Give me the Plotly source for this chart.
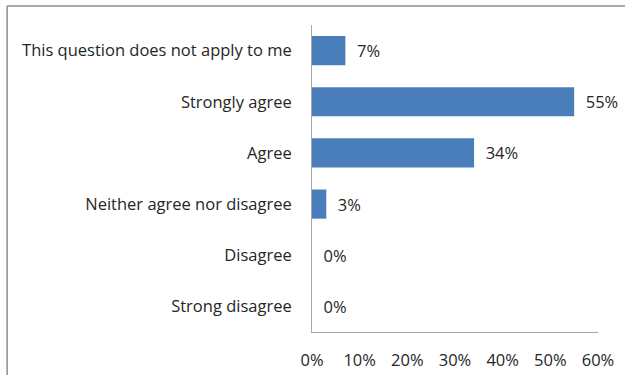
import plotly.graph_objects as go

categories = ["This question does not apply to me", "Strongly agree", "Agree",
              "Neither agree nor disagree", "Disagree", "Strong disagree"]
values = [7, 55, 34, 3, 0, 0]
tick_vals = [0, 10, 20, 30, 40, 50, 60]
tick_text = ["0%", "10%", "20%", "30%", "40%", "50%", "60%"]

FONT = "Open Sans, Liberation Sans, sans-serif"
FS = 16.5

fig = go.Figure(go.Bar(
    y=categories, x=values, orientation="h",
    marker=dict(color="#4A7EBB", line=dict(width=0)),
    text=[f"  {v}%" for v in values], textposition="outside",
    textfont=dict(family=FONT, size=FS, color="#262626"),
    cliponaxis=False,
))

fig.update_layout(
    width=625, height=375,
    margin=dict(l=312, r=27, t=25, b=43),
    paper_bgcolor="white", plot_bgcolor="white",
    bargap=0.43, showlegend=False,
    font=dict(family=FONT, size=FS, color="#262626"),
    xaxis=dict(range=[0, 60], tickvals=tick_vals, ticktext=tick_text,
               showgrid=False, zeroline=False, showline=True, linecolor="#a6a6a6",
               linewidth=1, ticks="", ticklabelstandoff=13, automargin=False,
               tickfont=dict(family=FONT, size=FS, color="#262626")),
    yaxis=dict(autorange="reversed", showgrid=False, zeroline=False, showline=True,
               linecolor="#a6a6a6", linewidth=1, ticks="", ticklabelstandoff=16,
               automargin=False,
               tickfont=dict(family=FONT, size=FS, color="#262626")),
    shapes=[
        dict(type="line", xref="paper", yref="paper", x0=-1.066, x1=1.1, y0=1.062, y1=1.062,
             line=dict(color="#8c8c8c", width=1.5)),
        dict(type="line", xref="paper", yref="paper", x0=-1.066, x1=-1.066, y0=1.062, y1=-0.14,
             line=dict(color="#8c8c8c", width=1.5)),
    ],
)

fig.write_html("out.html")
